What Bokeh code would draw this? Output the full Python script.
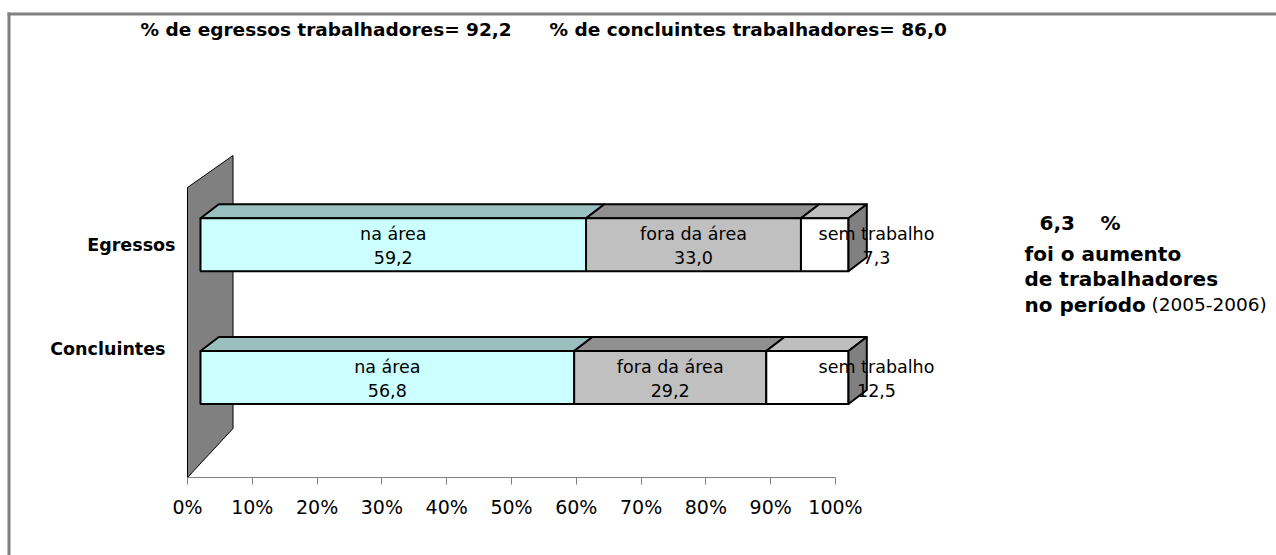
from bokeh.plotting import figure
from bokeh.models import ColumnDataSource, Range1d, FixedTicker
from bokeh.core.properties import value
from bokeh.embed import file_html
from bokeh.resources import INLINE

# ---------------- data ----------------
categories = ["Concluintes", "Egressos"]          # bottom to top
segments = ["na área", "fora da área", "sem trabalho"]
na_area = [56.8, 59.2]
fora_area = [29.2, 33.0]
sem_trabalho = [12.5, 7.3]
increase_pct = "6,3"
period = "(2005-2006)"
tick_values = [0, 10, 20, 30, 40, 50, 60, 70, 80, 90, 100]
tick_labels = ["0%", "10%", "20%", "30%", "40%", "50%", "60%", "70%", "80%", "90%", "100%"]

front_colors = ["#CCFFFF", "#C0C0C0", "#FFFFFF"]
top_colors = ["#99BFBF", "#909090", "#BFBFBF"]
side_color = "#808080"
wall_color = "#808080"
frame_color = "#808080"

# ---------------- layout (pixels -> data units) ----------------
W, H = 1276, 555
AX0_PX, PX_PER_PCT = 187.0, 6.48
CAT0_PY, PX_PER_CAT = 377.0, 132.8
AXIS_PY = 477.0


def dx(px):
    return px / PX_PER_PCT


def dy(px):
    return px / PX_PER_CAT


def X(px):
    return (px - AX0_PX) / PX_PER_PCT


def Y(py):
    return (CAT0_PY - py) / PX_PER_CAT


BAR_SHIFT = dx(13)
BAR_H = dy(53)
DEPTH_X = dx(18.3)
DEPTH_Y = dy(14)

p = figure(width=W, height=H,
           x_range=Range1d(X(0), X(W)), y_range=Range1d(Y(H), Y(0)),
           output_backend="svg", toolbar_location=None,
           x_axis_location="below", y_axis_location=None,
           min_border_left=0, min_border_right=0, min_border_top=0,
           min_border_bottom=0)
p.xgrid.visible = False
p.ygrid.visible = False
p.outline_line_color = None
p.background_fill_color = "white"
p.border_fill_color = "white"

# chart-area frame (top and left edges)
p.line(x=[X(7), X(W)], y=[Y(13.5), Y(13.5)], line_width=3, line_color=frame_color)
p.line(x=[X(8.5), X(8.5)], y=[Y(12), Y(H)], line_width=3, line_color=frame_color)

# back wall (3D)
wall_d = dx(45.5)
p.patch(x=[0, 0, wall_d, wall_d], y=[Y(AXIS_PY), Y(187), Y(155), Y(428)],
        fill_color=wall_color, line_color="black", line_width=1)

# ---------------- bars ----------------
rows = list(zip(na_area, fora_area, sem_trabalho))
front = dict(left=[], right=[], bottom=[], top=[], color=[])
tops = dict(xs=[], ys=[], color=[])
sides = dict(xs=[], ys=[], color=[])
lab = dict(x=[], y=[], text=[])
val = dict(x=[], y=[], text=[])
for i, row in enumerate(rows):
    total = sum(row)
    cum = 0.0
    b, t = i - BAR_H / 2, i + BAR_H / 2
    for j, v in enumerate(row):
        pct = v / total * 100.0
        l, r = BAR_SHIFT + cum, BAR_SHIFT + cum + pct
        cum += pct
        front["left"].append(l); front["right"].append(r)
        front["bottom"].append(b); front["top"].append(t)
        front["color"].append(front_colors[j])
        tops["xs"].append([l, r, r + DEPTH_X, l + DEPTH_X])
        tops["ys"].append([t, t, t + DEPTH_Y, t + DEPTH_Y])
        tops["color"].append(top_colors[j])
        if j == len(row) - 1:
            sides["xs"].append([r, r + DEPTH_X, r + DEPTH_X, r])
            sides["ys"].append([b, b + DEPTH_Y, t + DEPTH_Y, t])
            sides["color"].append(side_color)
            cx = BAR_SHIFT + 100 + dx(28)
        else:
            cx = (l + r) / 2
        lab["x"].append(cx); lab["y"].append(i + dy(11))
        lab["text"].append(segments[j])
        val["x"].append(cx); val["y"].append(i - dy(12.5))
        val["text"].append(f"{v:.1f}".replace(".", ","))

p.patches(xs="xs", ys="ys", fill_color="color", source=ColumnDataSource(tops),
          line_color="black", line_width=2, line_join="round")
p.quad(left="left", right="right", bottom="bottom", top="top", fill_color="color",
       source=ColumnDataSource(front), line_color="black", line_width=2)
p.patches(xs="xs", ys="ys", fill_color="color", source=ColumnDataSource(sides),
          line_color="black", line_width=2, line_join="round")

FONT = value("DejaVu Sans")
p.text(x="x", y="y", text="text", source=ColumnDataSource(lab), text_align="center",
       text_baseline="middle", text_font=FONT, text_font_size="17.5px", text_color="black")
p.text(x="x", y="y", text="text", source=ColumnDataSource(val), text_align="center",
       text_baseline="middle", text_font=FONT, text_font_size="17.5px", text_color="black")

# category labels
p.text(x=[X(165), X(175)], y=[Y(348), 1.0], text=categories, text_align="right",
       text_baseline="middle", text_font=FONT, text_font_size="17.5px",
       text_font_style="bold", text_color="black")

# headline texts
worker_eg = na_area[1] + fora_area[1]
worker_co = na_area[0] + fora_area[0]
titles = ["% de egressos trabalhadores= " + f"{worker_eg:.1f}".replace(".", ","),
          "% de concluintes trabalhadores= " + f"{worker_co:.1f}".replace(".", ",")]
p.text(x=[X(140), X(549)], y=[Y(29), Y(29)], text=titles, text_align="left",
       text_baseline="middle", text_font=FONT, text_font_size="18.5px",
       text_font_style="bold", text_color="black")

# side annotation
p.text(x=[X(1039), X(1100), X(1024), X(1024), X(1024)],
       y=[Y(222), Y(222), Y(253), Y(278), Y(304)],
       text=[increase_pct, "%", "foi o aumento", "de trabalhadores", "no período"],
       text_align="left", text_baseline="middle", text_font=FONT,
       text_font_size="20px", text_font_style="bold", text_color="black")
p.text(x=[X(1151)], y=[Y(304)], text=[period], text_align="left",
       text_baseline="middle", text_font=FONT, text_font_size="18.5px", text_color="black")

# x axis (drawn by Bokeh at the floor line of the 3D chart)
ax = p.xaxis[0]
ax.fixed_location = Y(AXIS_PY)
ax.ticker = FixedTicker(ticks=tick_values)
ax.major_label_overrides = dict(zip(tick_values, tick_labels))
ax.bounds = (0, 100)
ax.axis_line_color = "#808080"
ax.major_tick_line_color = "#808080"
ax.minor_tick_line_color = None
ax.major_tick_in = 0
ax.major_tick_out = 7
ax.major_label_standoff = 11
ax.major_label_text_font = "DejaVu Sans"
ax.major_label_text_font_size = "19px"
ax.major_label_text_color = "black"

open("out.html", "w").write(file_html(p, INLINE))
